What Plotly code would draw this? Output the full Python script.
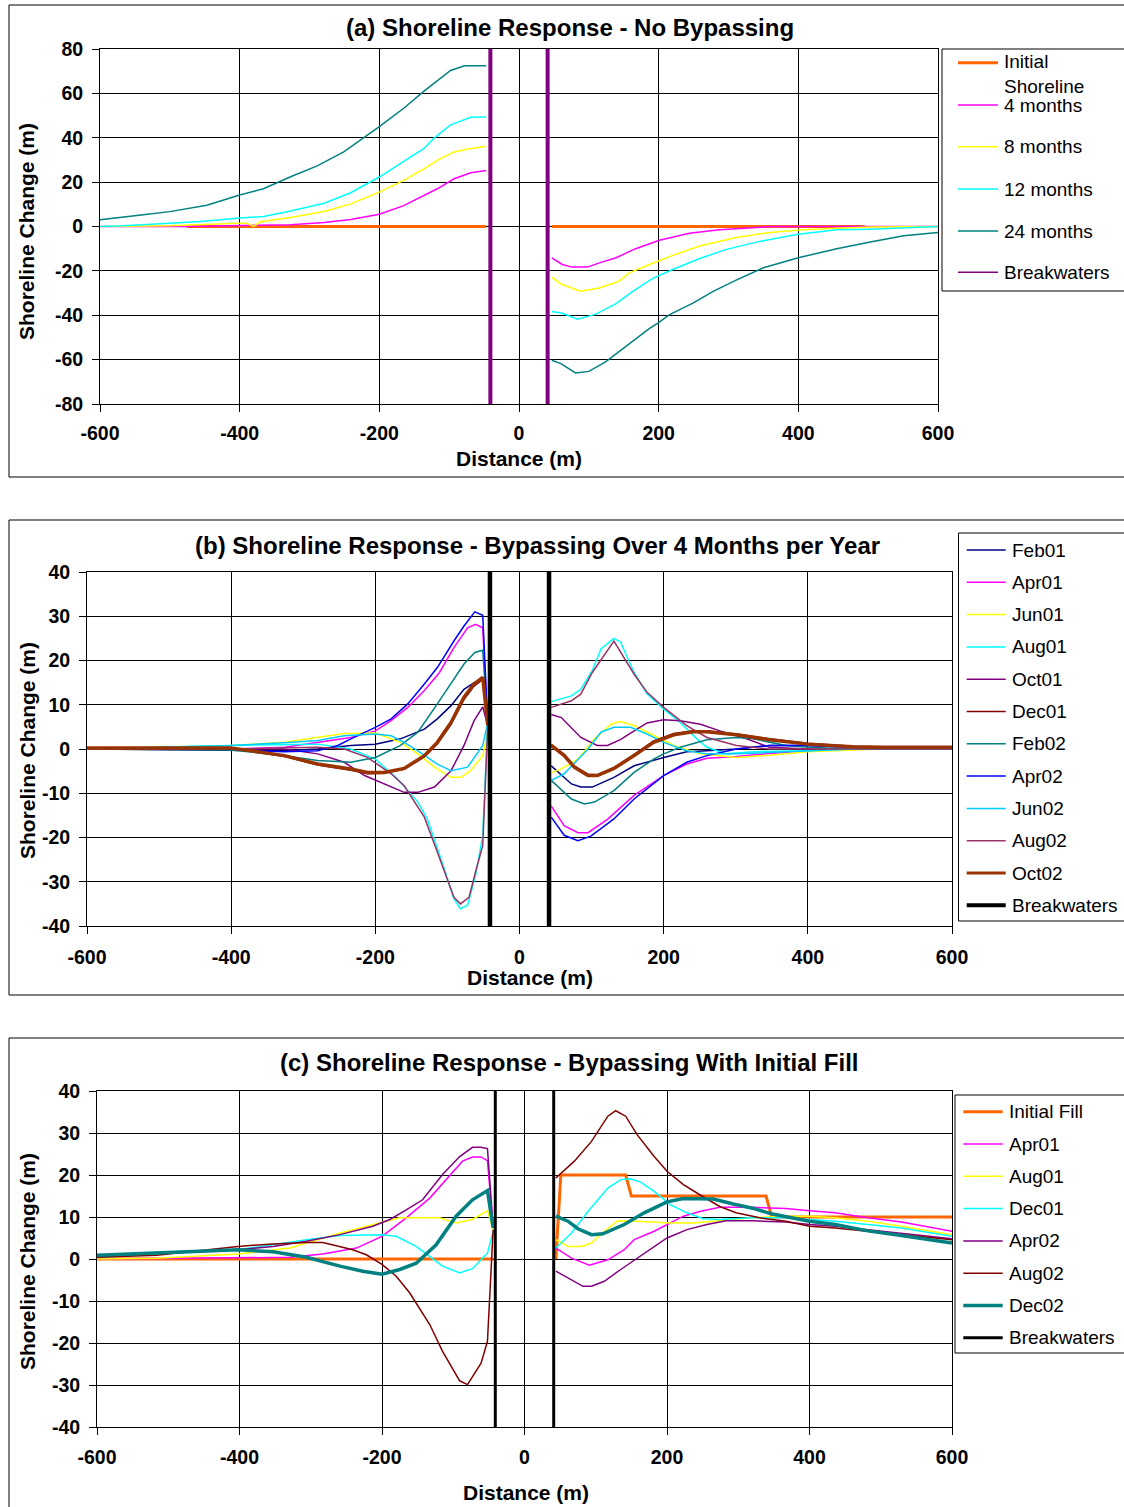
import plotly.graph_objects as go

W, H = 1124, 1507
FONT = "Liberation Sans, Arial, Helvetica, sans-serif"

# ---------------- axis ticks ----------------
X_TICKS = [-600, -400, -200, 0, 200, 400, 600]
X_TICK_TEXT = ["-600", "-400", "-200", "0", "200", "400", "600"]
A_Y_TICKS = [-80, -60, -40, -20, 0, 20, 40, 60, 80]
A_Y_TICK_TEXT = ["-80", "-60", "-40", "-20", "0", "20", "40", "60", "80"]
BC_Y_TICKS = [-40, -30, -20, -10, 0, 10, 20, 30, 40]
BC_Y_TICK_TEXT = ["-40", "-30", "-20", "-10", "0", "10", "20", "30", "40"]

# ---------------- (a) No bypassing ----------------
A_INIT_X = [-476, -47, None, 47, 495]
A_INIT_Y = [0, 0, None, 0, 0]

A_4M_X = [-600, -480, -327, -279, -241, -200, -165, -136, -117, -93, -69, -47,
          None, 47, 62, 76, 98, 115, 139, 167, 201, 244, 287, 335, 359, 600]
A_4M_Y = [0, 0, 0.8, 1.8, 3.2, 5.5, 9.4, 13.9, 17.0, 21.5, 24.2, 25.2,
          None, -14.1, -17.1, -18.3, -18.3, -16.4, -14.1, -10.0, -6.2, -3.0, -1.5, -0.6, 0, 0]

A_8M_X = [-600, -500, -413, -390, -380, -370, -327, -279, -241, -200, -165, -136, -117, -93, -69, -47,
          None, 47, 60, 88, 115, 143, 158, 187, 220, 259, 311, 359, 407, 455, 503, 600]
A_8M_Y = [0, 0.3, 1.4, 1.5, 0, 2.1, 4.1, 6.8, 10.2, 15.5, 20.8, 26.0, 29.8, 33.6, 35.2, 36.2,
          None, -22.9, -25.9, -29.2, -27.7, -24.7, -20.9, -17.1, -13.0, -8.8, -5.0, -2.7, -1.5, -0.8, -0.2, 0]

A_12M_X = [-600, -567, -500, -456, -400, -366, -327, -279, -241, -200, -165, -136, -122, -98, -69, -47,
           None, 47, 62, 84, 110, 139, 163, 191, 220, 259, 297, 345, 400, 455, 503, 600]
A_12M_Y = [0, 0.3, 1.5, 2.3, 3.8, 4.5, 7.0, 10.5, 15.2, 22.3, 29.4, 35.2, 39.7, 45.8, 49.2, 49.4,
           None, -38.3, -39.1, -41.8, -39.5, -34.8, -29.2, -23.5, -19.4, -14.4, -10.3, -6.7, -3.5, -1.5, -1.2, 0]

A_24M_X = [-600, -567, -538, -500, -447, -400, -366, -327, -289, -251, -217, -200, -165, -136, -98, -78, -47,
           None, 47, 60, 81, 100, 124, 153, 187, 200, 215, 249, 278, 311, 350, 400, 455, 503, 551, 600]
A_24M_Y = [3.0, 4.1, 5.3, 6.7, 9.6, 14.2, 17.0, 22.4, 27.3, 33.6, 41.2, 45.0, 53.3, 61.0, 70.3, 72.4, 72.4,
           None, -60.3, -61.8, -66.0, -65.3, -61.0, -54.2, -45.9, -43.3, -39.8, -34.5, -29.2, -24.2, -18.6,
           -14.1, -10.0, -7.0, -4.2, -2.7]

A_BW_X = [-41, -41, None, 41, 41]
A_BW_Y = [-80, 80, None, -80, 80]

# ---------------- (b) Bypassing over 4 months per year ----------------
B_FEB01_X = [-600, -326, -280, -234, -200, -165, -132, -114, -95, -77, -63, -51, -44,
             None, 44, 72, 85, 101, 131, 159, 200, 232, 260, 301, 347, 400, 462, 507, 600]
B_FEB01_Y = [0, -0.4, 0, 0.8, 1.1, 2.3, 4.5, 6.8, 9.8, 13.5, 15.0, 15.8, 5.3,
             None, -3.8, -7.9, -8.6, -8.6, -6.4, -3.8, -1.9, -0.6, -0.4, 0, 0.8, 0.8, 0.4, 0, 0]

B_APR01_X = [-600, -401, -326, -280, -234, -200, -178, -155, -132, -111, -91, -72, -61, -51, -44,
             None, 44, 62, 81, 95, 122, 159, 200, 232, 260, 301, 347, 400, 462, 600]
B_APR01_Y = [0, 0, 0.4, 1.5, 2.6, 4.1, 6.4, 9.4, 13.2, 17.3, 22.9, 27.4, 28.2, 27.4, 5.3,
             None, -12.9, -17.3, -18.9, -18.9, -15.9, -10.5, -6.0, -3.4, -2.1, -1.7, -1.0, -0.4, 0, 0]

B_JUN01_X = [-600, -401, -326, -280, -243, -200, -165, -141, -118, -95, -81, -68, -51, -44,
             None, 44, 58, 81, 104, 127, 140, 159, 186, 214, 251, 301, 347, 400, 462, 507, 600]
B_JUN01_Y = [0, 0.8, 1.5, 2.6, 3.5, 3.6, 1.5, -1.1, -4.1, -6.4, -6.4, -4.9, -1.5, 3.8,
             None, -5.4, -4.5, -2.3, 2.3, 5.6, 6.2, 5.3, 3.0, 0.8, -1.1, -1.9, -1.4, -0.6, -0.2, 0, 0]

B_AUG01_X = [-600, -401, -280, -234, -200, -169, -141, -128, -109, -91, -82, -72, -61, -51, -44,
             None, 44, 72, 85, 101, 113, 131, 140, 159, 177, 200, 223, 246, 260, 287, 324, 400, 462, 600]
B_AUG01_Y = [0, 0.8, 1.1, 0, -2.3, -6.8, -12.0, -15.8, -24.8, -33.8, -36.1, -35.3, -28.6, -19.5, 6.0,
             None, 10.7, 12.0, 13.5, 17.7, 22.6, 25.0, 24.2, 17.3, 12.4, 9.0, 6.0, 2.3, 0.4, -1.1, -0.6,
             -0.4, 0, 0]

B_OCT01_X = [-600, -326, -280, -243, -215, -188, -160, -141, -118, -95, -77, -63, -51, -44,
             None, 44, 58, 85, 108, 122, 140, 159, 177, 200, 223, 251, 278, 315, 347, 400, 600]
B_OCT01_Y = [0, 0, -1.1, -3.0, -6.0, -7.9, -9.8, -9.8, -8.6, -4.9, 0.8, 6.4, 9.5, 5.3,
             None, 7.8, 7.1, 2.6, 0.8, 0.8, 2.1, 4.1, 5.9, 6.6, 6.4, 5.6, 4.1, 2.3, 0.4, 0, 0]

B_DEC01_X = [-600, -401, -372, -326, -280, -234, -211, -188, -160, -132, -114, -95, -77, -63, -51, -44,
             None, 44, 62, 76, 95, 108, 131, 159, 186, 214, 241, 260, 301, 347, 400, 462, 507, 600]
B_DEC01_Y = [0.1, 0.1, -0.5, -1.7, -3.6, -4.8, -5.6, -5.5, -4.6, -1.8, 1.1, 5.5, 11.2, 14.2, 15.7, 5.3,
             None, 1.0, -1.2, -3.8, -5.7, -5.8, -4.2, -1.2, 1.8, 3.5, 4.1, 4.1, 3.4, 2.3, 1.3, 0.6, 0.4, 0.4]

B_FEB02_X = [-600, -401, -326, -280, -234, -200, -165, -141, -114, -95, -77, -62, -51, -44,
             None, 44, 72, 90, 104, 131, 159, 186, 200, 223, 260, 301, 324, 370, 400, 462, 600]
B_FEB02_Y = [0, -0.2, -1.5, -2.6, -3.0, -1.9, 0.8, 3.8, 10.2, 14.7, 19.2, 21.8, 22.3, 5.3,
             None, -7.1, -11.3, -12.4, -12.0, -9.4, -5.3, -2.3, -1.1, 0.4, 2.1, 2.6, 2.3, 0.8, 0.4, 0, 0]

B_APR02_X = [-600, -401, -372, -326, -280, -252, -234, -200, -178, -155, -132, -114, -91, -77, -62, -51, -44,
             None, 44, 62, 81, 99, 131, 159, 200, 232, 260, 301, 347, 400, 462, 507, 600]
B_APR02_Y = [0, 0, -0.4, -0.6, -0.4, 0.8, 2.3, 4.9, 6.8, 10.2, 14.7, 18.4, 24.4, 27.8, 31.0, 30.2, 5.3,
             None, -15.4, -19.5, -20.7, -19.7, -15.8, -11.3, -6.0, -3.0, -1.5, 0, 0.8, 0.8, 0.4, 0, 0]

B_JUN02_X = [-600, -401, -326, -280, -243, -200, -178, -160, -141, -114, -95, -72, -51, -44,
             None, 44, 62, 95, 113, 131, 154, 177, 200, 232, 260, 301, 347, 400, 462, 600]
B_JUN02_Y = [0, 0.8, 1.4, 1.9, 3.0, 3.4, 3.0, 1.5, -0.4, -3.4, -4.9, -4.1, 0.8, 6.0,
             None, -7.1, -5.6, 0, 3.8, 4.9, 4.9, 3.4, 1.5, -0.4, -1.1, -1.1, -0.8, -0.4, 0, 0]

B_AUG02_X = [-600, -401, -280, -243, -211, -178, -160, -132, -114, -91, -82, -70, -61, -51, -44,
             None, 44, 72, 85, 101, 131, 159, 177, 200, 232, 260, 301, 347, 600]
B_AUG02_Y = [0, 0, 0.4, 0, -1.9, -5.6, -8.3, -15.4, -23.3, -33.5, -35.0, -33.5, -27.8, -21.8, 5.3,
             None, 9.4, 10.9, 12.4, 17.3, 24.4, 16.9, 12.8, 9.4, 5.3, 2.6, 0.8, 0, 0]

B_OCT02_X = [-600, -401, -372, -326, -280, -234, -211, -188, -160, -132, -114, -95, -77, -63, -51, -44,
             None, 44, 62, 76, 95, 108, 131, 159, 186, 214, 241, 260, 301, 347, 400, 462, 507, 600]
B_OCT02_Y = [0.2, 0.2, -0.4, -1.5, -3.4, -4.5, -5.3, -5.3, -4.4, -1.5, 1.5, 6.0, 11.7, 14.7, 16.2, 5.3,
             None, 0.8, -1.5, -4.1, -6.0, -6.0, -4.4, -1.5, 1.5, 3.2, 3.9, 3.9, 3.2, 2.1, 1.1, 0.5, 0.4, 0.4]

B_BW_X = [-41, -41, None, 41, 41]
B_BW_Y = [-40, 40, None, -40, 40]

# ---------------- (c) Bypassing with initial fill ----------------
C_FILL_X = [-600, -44, None, 44, 51, 142, 150, 339, 347, 600]
C_FILL_Y = [0, 0, None, 0, 20, 20, 15, 15, 10, 10]

C_APR01_X = [-600, -402, -329, -283, -236, -200, -166, -133, -105, -87, -73, -61, -52, -44,
             None, 44, 66, 91, 117, 140, 154, 182, 200, 223, 246, 274, 320, 367, 400, 436, 482, 529, 600]
C_APR01_Y = [0, 0.2, 0.4, 1.2, 2.6, 5.4, 9.8, 14.5, 19.7, 23.3, 24.3, 24.3, 23.4, 7.4,
             None, 2.6, 0.2, -1.5, -0.2, 2.2, 4.6, 6.6, 8.2, 10.2, 11.3, 12.3, 12.3, 12.0, 11.5, 11.0, 9.8,
             8.8, 6.6]

C_AUG01_X = [-600, -516, -402, -329, -259, -200, -175, -119, -96, -73, -52, -44,
             None, 44, 61, 80, 94, 112, 131, 158, 205, 237, 274, 320, 367, 400, 436, 482, 529, 600]
C_AUG01_Y = [0, 0.2, 1.2, 2.6, 6.2, 8.6, 9.8, 9.8, 8.6, 9.4, 11.5, 7.0,
             None, 4.6, 3.0, 3.0, 3.8, 6.6, 9.1, 9.0, 8.6, 8.6, 9.1, 9.8, 10.2, 10.2, 9.8, 9.0, 7.8, 5.8]

C_DEC01_X = [-600, -402, -306, -259, -200, -180, -152, -133, -115, -91, -73, -52, -44,
             None, 44, 66, 89, 117, 135, 149, 163, 182, 205, 228, 251, 274, 320, 367, 400, 436, 482, 529, 600]
C_DEC01_Y = [0.4, 2.2, 4.6, 5.6, 5.8, 5.4, 3.0, 0.6, -1.7, -3.3, -2.3, 1.4, 6.6,
             None, 2.6, 6.2, 11.3, 16.9, 18.9, 19.1, 18.3, 16.1, 12.9, 11.0, 9.6, 9.4, 9.8, 9.8, 9.4, 9.0,
             8.2, 7.4, 5.4]

C_APR02_X = [-600, -516, -402, -353, -306, -259, -213, -189, -166, -143, -115, -91, -73, -61, -52, -44,
             None, 44, 66, 82, 94, 112, 135, 158, 182, 200, 228, 256, 283, 320, 367, 400, 436, 482, 529, 600]
C_APR02_Y = [0.6, 1.4, 2.2, 3.0, 4.2, 5.8, 7.8, 9.4, 11.7, 14.1, 20.1, 24.4, 26.6, 26.6, 26.3, 7.4,
             None, -2.9, -4.9, -6.5, -6.5, -5.3, -2.5, 0.2, 3.0, 5.0, 7.0, 8.2, 9.1, 9.1, 8.8, 8.2, 7.8, 7.0,
             6.2, 4.8]

C_AUG02_X = [-600, -516, -402, -353, -306, -283, -241, -222, -200, -180, -161, -133, -115, -91, -80, -61, -52, -44,
             None, 44, 70, 94, 117, 128, 142, 158, 182, 200, 223, 246, 274, 297, 330, 367, 400, 436, 482, 529, 600]
C_AUG02_Y = [0.4, 0.9, 3.0, 3.6, 3.9, 3.9, 2.2, 1.0, -1.3, -4.1, -8.1, -15.6, -22.0, -29.0, -29.9, -24.8, -19.6, 7.0,
             None, 19.3, 23.3, 28.0, 34.0, 35.3, 34.0, 29.6, 24.4, 20.9, 17.7, 15.3, 12.5, 11.0, 9.8, 9.0,
             7.8, 7.4, 6.6, 5.8, 4.6]

C_DEC02_X = [-600, -516, -402, -353, -306, -259, -227, -200, -175, -152, -124, -96, -73, -52, -44,
             None, 44, 61, 75, 94, 110, 140, 168, 200, 223, 265, 293, 320, 348, 400, 436, 482, 529, 600]
C_DEC02_Y = [0.9, 1.4, 2.2, 1.7, 0.4, -1.7, -2.9, -3.6, -2.5, -1.0, 3.4, 10.2, 14.1, 16.3, 7.4,
             None, 10.2, 9.0, 7.2, 5.8, 6.0, 8.2, 11.0, 13.6, 14.4, 14.3, 13.1, 12.1, 10.7, 9.0, 8.2, 6.7,
             5.6, 3.8]

C_BW_X = [-41, -41, None, 41, 41]
C_BW_Y = [-40, 40, None, -40, 40]

# series: (name, x, y, colour, plot width, legend width)
A_SERIES = [
    ("Initial Shoreline", A_INIT_X, A_INIT_Y, "#FF6600", 3.0, 3.0),
    ("4 months", A_4M_X, A_4M_Y, "#FF00FF", 1.5, 1.5),
    ("8 months", A_8M_X, A_8M_Y, "#FFFF00", 1.5, 1.5),
    ("12 months", A_12M_X, A_12M_Y, "#00FFFF", 1.5, 1.5),
    ("24 months", A_24M_X, A_24M_Y, "#008080", 1.5, 1.5),
    ("Breakwaters", A_BW_X, A_BW_Y, "#800080", 4.0, 1.5),
]
A_LEGEND_TEXT = ["Initial<br>Shoreline", "4 months", "8 months", "12 months", "24 months", "Breakwaters"]

B_SERIES = [
    ("Feb01", B_FEB01_X, B_FEB01_Y, "#000080", 1.5, 1.5),
    ("Apr01", B_APR01_X, B_APR01_Y, "#FF00FF", 1.5, 1.5),
    ("Jun01", B_JUN01_X, B_JUN01_Y, "#FFFF00", 1.5, 1.5),
    ("Aug01", B_AUG01_X, B_AUG01_Y, "#00FFFF", 1.5, 1.5),
    ("Oct01", B_OCT01_X, B_OCT01_Y, "#800080", 1.5, 1.5),
    ("Dec01", B_DEC01_X, B_DEC01_Y, "#800000", 1.5, 1.5),
    ("Feb02", B_FEB02_X, B_FEB02_Y, "#008080", 1.5, 1.5),
    ("Apr02", B_APR02_X, B_APR02_Y, "#0000FF", 1.5, 1.5),
    ("Jun02", B_JUN02_X, B_JUN02_Y, "#00CCFF", 1.5, 1.5),
    ("Aug02", B_AUG02_X, B_AUG02_Y, "#993366", 1.5, 1.5),
    ("Oct02", B_OCT02_X, B_OCT02_Y, "#993300", 3.5, 3.0),
    ("Breakwaters", B_BW_X, B_BW_Y, "#000000", 4.5, 4.0),
]

C_SERIES = [
    ("Initial Fill", C_FILL_X, C_FILL_Y, "#FF6600", 3.0, 3.0),
    ("Apr01", C_APR01_X, C_APR01_Y, "#FF00FF", 1.5, 1.5),
    ("Aug01", C_AUG01_X, C_AUG01_Y, "#FFFF00", 1.5, 1.5),
    ("Dec01", C_DEC01_X, C_DEC01_Y, "#00FFFF", 1.5, 1.5),
    ("Apr02", C_APR02_X, C_APR02_Y, "#800080", 1.5, 1.5),
    ("Aug02", C_AUG02_X, C_AUG02_Y, "#800000", 1.5, 1.5),
    ("Dec02", C_DEC02_X, C_DEC02_Y, "#008080", 3.5, 3.5),
    ("Breakwaters", C_BW_X, C_BW_Y, "#000000", 3.0, 3.0),
]


def px(X):
    return X / W


def py(Y):
    return 1 - Y / H


# panel layout in pixels
PANELS = [
    dict(series=A_SERIES, legend_text=A_LEGEND_TEXT, ax="", plot=(100, 49, 938, 404),
         frame=(9, 5, 1135, 477), legend_box=(942, 49, 1135, 291),
         sample=(958, 998), text_x=1002, rows=[62.7, 105, 146.7, 189, 231, 272.3],
         yticks=(A_Y_TICKS, A_Y_TICK_TEXT, [-80, 80]),
         title="(a) Shoreline Response - No Bypassing", title_xy=(570, 28),
         xtitle_xy=(519, 458), ytitle_xy=(27, 232), xstand=5, ystand=5),
    dict(series=B_SERIES, legend_text=[s[0] for s in B_SERIES], ax="2", plot=(87, 572, 952, 926),
         frame=(9, 520, 1135, 995), legend_box=(958.5, 533, 1135, 921),
         sample=(966.7, 1005.7), text_x=1010, rows=[550 + 32.3 * i for i in range(12)],
         yticks=(BC_Y_TICKS, BC_Y_TICK_TEXT, [-40, 40]),
         title="(b) Shoreline Response - Bypassing Over 4 Months per Year", title_xy=(537, 545),
         xtitle_xy=(530, 977), ytitle_xy=(27, 751), xstand=7, ystand=5),
    dict(series=C_SERIES, legend_text=[s[0] for s in C_SERIES], ax="3", plot=(97, 1091, 952, 1427),
         frame=(9, 1038, 1135, 1520), legend_box=(955, 1095, 1135, 1353),
         sample=(963.3, 1002.7), text_x=1006.5, rows=[1111.7 + 32.3 * i for i in range(8)],
         yticks=(BC_Y_TICKS, BC_Y_TICK_TEXT, [-40, 40]),
         title="(c) Shoreline Response - Bypassing With Initial Fill", title_xy=(569, 1062),
         xtitle_xy=(526, 1492), ytitle_xy=(27, 1262), xstand=6, ystand=5),
]

fig = go.Figure()
shapes = []
annotations = []
tick_font = dict(family=FONT, size=19.5, color="#000000", weight="bold")

for p in PANELS:
    ax = p["ax"]
    for name, xs, ys, color, w, _lw in p["series"]:
        fig.add_trace(go.Scatter(
            x=xs, y=ys, mode="lines", name=name,
            line=dict(color=color, width=w),
            xaxis="x" + ax, yaxis="y" + ax, showlegend=False,
            hoverinfo="x+y+name",
        ))

    X0, Y0, X1, Y1 = p["plot"]
    common = dict(showgrid=True, gridcolor="#000000", gridwidth=1, zeroline=False,
                  showline=True, linecolor="#000000", linewidth=1, mirror=True,
                  ticks="outside", ticklen=7, tickwidth=1, tickcolor="#000000",
                  tickfont=tick_font, fixedrange=True, automargin=False)
    fig.layout["xaxis" + ax] = dict(
        domain=[px(X0), px(X1)], anchor="y" + ax, range=[-600, 600],
        tickmode="array", tickvals=X_TICKS, ticktext=X_TICK_TEXT,
        ticklabelstandoff=p["xstand"], **common)
    yt, ytt, yr = p["yticks"]
    fig.layout["yaxis" + ax] = dict(
        domain=[py(Y1), py(Y0)], anchor="x" + ax, range=yr,
        tickmode="array", tickvals=yt, ticktext=ytt,
        ticklabelstandoff=p["ystand"], **common)

    # chart frame and legend frame
    fx0, fy0, fx1, fy1 = p["frame"]
    shapes.append(dict(type="rect", xref="paper", yref="paper",
                       x0=px(fx0), x1=px(fx1), y0=py(fy1), y1=py(fy0),
                       line=dict(color="#000000", width=1), fillcolor="rgba(0,0,0,0)", layer="below"))
    lx0, ly0, lx1, ly1 = p["legend_box"]
    shapes.append(dict(type="rect", xref="paper", yref="paper",
                       x0=px(lx0), x1=px(lx1), y0=py(ly1), y1=py(ly0),
                       line=dict(color="#000000", width=1), fillcolor="rgba(0,0,0,0)"))

    # legend entries
    sx0, sx1 = p["sample"]
    for (name, _x, _y, color, _w, lw), label, row in zip(p["series"], p["legend_text"], p["rows"]):
        shapes.append(dict(type="line", xref="paper", yref="paper",
                           x0=px(sx0), x1=px(sx1), y0=py(row), y1=py(row),
                           line=dict(color=color, width=lw)))
        ty = row + 11 if "<br>" in label else row
        annotations.append(dict(text=label, xref="paper", yref="paper",
                                x=px(p["text_x"]), y=py(ty), xanchor="left", yanchor="middle",
                                align="left", showarrow=False,
                                font=dict(family=FONT, size=19, color="#000000")))

    # titles
    tx, ty = p["title_xy"]
    annotations.append(dict(text=p["title"], xref="paper", yref="paper", x=px(tx), y=py(ty),
                            xanchor="center", yanchor="middle", showarrow=False,
                            font=dict(family=FONT, size=24, color="#000000", weight="bold")))
    tx, ty = p["xtitle_xy"]
    annotations.append(dict(text="Distance (m)", xref="paper", yref="paper", x=px(tx), y=py(ty),
                            xanchor="center", yanchor="middle", showarrow=False,
                            font=dict(family=FONT, size=21, color="#000000", weight="bold")))
    tx, ty = p["ytitle_xy"]
    annotations.append(dict(text="Shoreline Change (m)", xref="paper", yref="paper", x=px(tx), y=py(ty),
                            xanchor="center", yanchor="middle", showarrow=False, textangle=-90,
                            font=dict(family=FONT, size=21, color="#000000", weight="bold")))

fig.update_layout(
    template="none",
    width=W, height=H, autosize=False,
    margin=dict(l=0, r=0, t=0, b=0, pad=0, autoexpand=False),
    paper_bgcolor="#FFFFFF", plot_bgcolor="#FFFFFF",
    shapes=shapes, annotations=annotations,
    showlegend=False,
    font=dict(family=FONT, color="#000000"),
)

fig.write_html("out.html", config={"displayModeBar": False})
